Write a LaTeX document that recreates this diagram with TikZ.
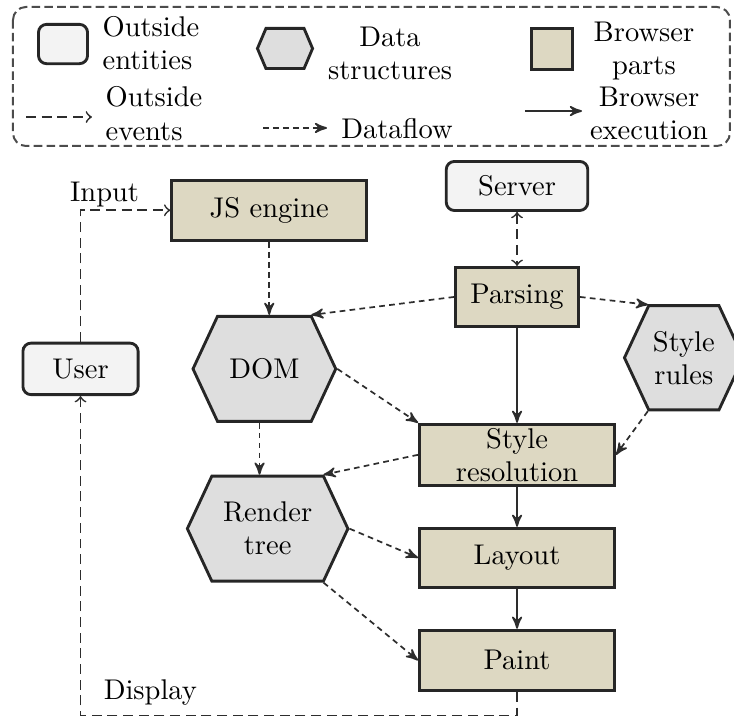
\documentclass[tikz,border=0pt]{standalone}
\usepackage{tikz}
\usetikzlibrary{arrows,positioning,shapes.symbols}

\definecolor{partfill}{RGB}{221,216,194}
\definecolor{datafill}{RGB}{222,222,222}
\definecolor{outfill}{RGB}{243,243,243}
\definecolor{edgegray}{RGB}{45,45,45}

\begin{document}
\begin{tikzpicture}[>=stealth',font={\linespread{0.97}\selectfont},
  part node/.style={rectangle,draw=black!85,line width=1pt,fill=partfill,
    minimum width=24.05mm,minimum height=7.45mm,inner sep=1pt,align=center},
  data node/.style={signal,signal to=west and east,signal pointer angle=130,
    draw=black!85,line width=1pt,fill=datafill,inner sep=1pt,align=center},
  outside node/.style={rectangle,rounded corners=1mm,draw=black!85,line width=1pt,
    fill=outfill,inner sep=1pt},
  legend text/.style={inner sep=0pt,align=center},
  flow/.style={->,color=edgegray,semithick,dash pattern=on 2pt off 1.5pt},
  event/.style={-to,color=edgegray,semithick,dash pattern=on 3.5pt off 2pt},
  exec/.style={->,color=edgegray,semithick}]
    \useasboundingbox (0,0) rectangle (9.05,-8.865);

    % legend
    \draw[draw=black!70,line width=0.7pt,dash pattern=on 3pt off 1.5pt,rounded corners=1.6mm]
        (0.160,-0.086) rectangle (9.000,-1.800);
    \node[outside node,minimum width=6.05mm,minimum height=4.85mm](keyout) at (0.777,-0.543){};
    \node[legend text,anchor=west,align=left](keyouttext) at (1.258,-0.53){Outside\\entities};
    \node[data node,signal pointer angle=134,minimum width=6.8mm,minimum height=4.95mm](keydata) at (3.514,-0.598){};
    \node[legend text](keydatatext) at (4.809,-0.66){Data\\structures};
    \node[part node,minimum width=5.05mm,minimum height=5.05mm](keypart) at (6.806,-0.604){};
    \node[legend text](keyparttext) at (7.940,-0.63){Browser\\parts};
    \coordinate (keyevA) at (0.321,-1.443);
    \coordinate (keyevB) at (1.134,-1.443);
    \node[legend text,anchor=west,align=left](keyevtext) at (1.295,-1.40){Outside\\events};
    \coordinate (keyflowA) at (3.243,-1.578);
    \coordinate (keyflowB) at (4.032,-1.578);
    \node[legend text](keyflowtext) at (4.895,-1.58){Dataflow};
    \coordinate (keyexecA) at (6.473,-1.369);
    \coordinate (keyexecB) at (7.176,-1.369);
    \node[legend text](keyexectext) at (8.002,-1.40){Browser\\execution};
    \draw[event] (keyevA) -- (keyevB);
    \draw[flow] (keyflowA) -- (keyflowB);
    \draw[exec] (keyexecA) -- (keyexecB);

    % browser pipeline
    \node[outside node,minimum width=17.45mm,minimum height=6.05mm](server) at (6.375,-2.293){Server};
    \node[part node,minimum width=15.15mm,minimum height=7.29mm,below=6.66mm of server](parsing){Parsing};
    \node[part node,minimum height=7.54mm,below=11.7mm of parsing](styleres){Style\\resolution};
    \node[part node,minimum height=7.29mm,below=4.93mm of styleres](layout){Layout};
    \node[part node,below=4.93mm of layout](paint){Paint};
    \node[part node,left=9.45mm of server,yshift=-3mm](js){JS engine};
    \node[data node,minimum width=17.6mm,minimum height=12.95mm,below=9mm of js,xshift=-0.6mm](dom){DOM};
    \node[data node,minimum width=19.8mm,minimum height=12.95mm,below=6.4mm of dom,xshift=0.4mm](render){Render\\tree};
    \node[outside node,minimum width=14.2mm,minimum height=6.35mm,left=6.4mm of dom](user){User};
    \node[data node,minimum width=14.65mm,minimum height=12.85mm,right=5.3mm of parsing,yshift=-7.5mm](stylerules){Style\\rules};

    \draw[event] (user.north) |- node[pos=0.634,above,inner sep=1pt,text=black]{Input} (js.west);
    \draw[event] (paint.south) -- ++(0,-2.9mm) -| node[pos=0.42,above,text=black]{Display} (user.south);
    \draw[event,to-to] (server) -- (parsing);
    \path[flow]
          (js.south) edge (js.south |- dom.north)
          (parsing.west) edge (dom.49)
          (parsing.east) edge (stylerules.124)
          (dom.east) edge (styleres.north west)
          (stylerules.236) edge (styleres.east)
          ([xshift=-0.6mm]dom.south) edge ([xshift=-0.6mm]dom.south |- render.north)
          (styleres.west) edge (render.44)
          (render.east) edge (layout.west)
          (render.316) edge (paint.west)
    ;
    \path[exec]
          (parsing) edge (styleres)
          (styleres) edge (layout)
          (layout) edge (paint)
    ;
\end{tikzpicture}
\end{document}
